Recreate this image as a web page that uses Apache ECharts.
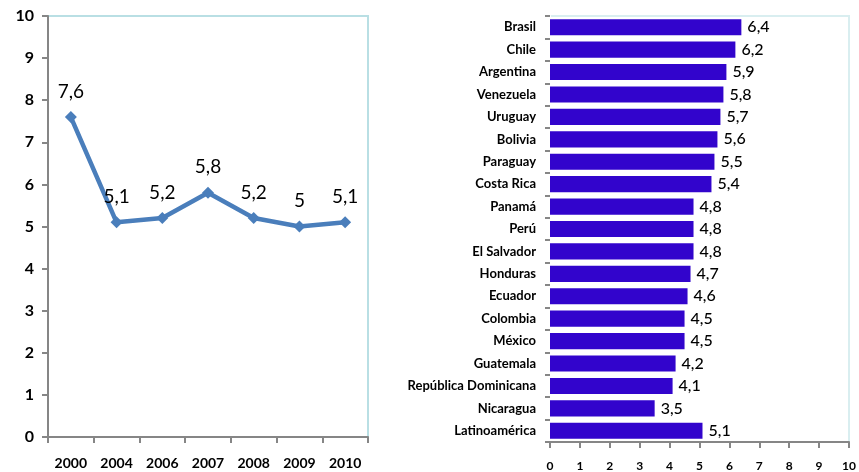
<!DOCTYPE html>
<html>
<head>
<meta charset="utf-8">
<script src="https://cdn.jsdelivr.net/npm/echarts@6/dist/echarts.min.js"></script>
<style>
  html, body { margin: 0; padding: 0; background: #fff; }
  #chart { width: 859px; height: 472px; }
</style>
</head>
<body>
<div id="chart"></div>
<script>
// serie temporal (izquierda)
const years = ["2000", "2004", "2006", "2007", "2008", "2009", "2010"];
const yearValues = [7.6, 5.1, 5.2, 5.8, 5.2, 5, 5.1];

// países (derecha), de arriba a abajo
const countries = [
  "Brasil", "Chile", "Argentina", "Venezuela", "Uruguay", "Bolivia", "Paraguay",
  "Costa Rica", "Panamá", "Perú", "El Salvador", "Honduras", "Ecuador",
  "Colombia", "México", "Guatemala", "República Dominicana", "Nicaragua", "Latinoamérica"
];
const countryValues = [6.4, 6.2, 5.9, 5.8, 5.7, 5.6, 5.5, 5.4, 4.8, 4.8, 4.8, 4.7, 4.6, 4.5, 4.5, 4.2, 4.1, 3.5, 5.1];

const chart = echarts.init(document.getElementById("chart"));
const comma = (p) => String(p.value).replace(".", ",");
const font = "Lato, 'Open Sans', sans-serif";
const axisGray = "#868686";

const option = {
  animation: false,
  textStyle: { fontFamily: font },
  grid: [
    { left: 48, top: 16, width: 320, height: 421, show: true, borderColor: "#b9dfe4", borderWidth: 2 },
    { left: 550, top: 16, width: 299, height: 426, show: true, borderColor: "#d9eef0", borderWidth: 2 }
  ],
  xAxis: [
    {
      gridIndex: 0,
      type: "category",
      data: years,
      axisLine: { lineStyle: { color: axisGray, width: 2 } },
      axisTick: { show: true, length: 6, lineStyle: { color: axisGray, width: 2 } },
      axisLabel: { color: "#000", fontSize: 14, fontWeight: "bold", margin: 19, fontFamily: font }
    },
    {
      gridIndex: 1,
      type: "value",
      min: 0, max: 10, interval: 1,
      splitLine: { show: false },
      axisLine: { show: true, lineStyle: { color: axisGray, width: 2 } },
      axisTick: { show: true, length: 6, lineStyle: { color: axisGray, width: 2 } },
      axisLabel: { color: "#000", fontSize: 12, fontWeight: "bold", margin: 18, fontFamily: font }
    }
  ],
  yAxis: [
    {
      gridIndex: 0,
      type: "value",
      min: 0, max: 10, interval: 1,
      splitLine: { show: false },
      axisLine: { show: true, lineStyle: { color: axisGray, width: 2 } },
      axisTick: { show: true, length: 6, lineStyle: { color: axisGray, width: 2 } },
      axisLabel: { color: "#000", fontSize: 16, fontWeight: "bold", margin: 14, fontFamily: font }
    },
    {
      gridIndex: 1,
      type: "category",
      data: countries,
      inverse: true,
      axisLine: { show: true, lineStyle: { color: "#fff", width: 2 } },
      axisTick: { show: true, length: 5, lineStyle: { color: axisGray, width: 2 } },
      axisLabel: { color: "#000", fontSize: 13, fontWeight: "bold", margin: 14, fontFamily: font }
    }
  ],
  series: [
    {
      type: "line",
      xAxisIndex: 0, yAxisIndex: 0,
      data: yearValues,
      symbol: "diamond",
      symbolSize: 12,
      lineStyle: { color: "#4a7ebb", width: 4.5 },
      itemStyle: { color: "#4a7ebb" },
      label: { show: true, position: "top", distance: 10, fontSize: 19, color: "#000", formatter: comma }
    },
    {
      type: "bar",
      xAxisIndex: 1, yAxisIndex: 1,
      data: countryValues,
      barCategoryGap: "28%",
      itemStyle: { color: "#3204cc" },
      label: { show: true, position: "right", distance: 6, fontSize: 16, fontWeight: 500, color: "#000", formatter: comma }
    }
  ]
};

chart.setOption(option);
</script>
</body>
</html>
